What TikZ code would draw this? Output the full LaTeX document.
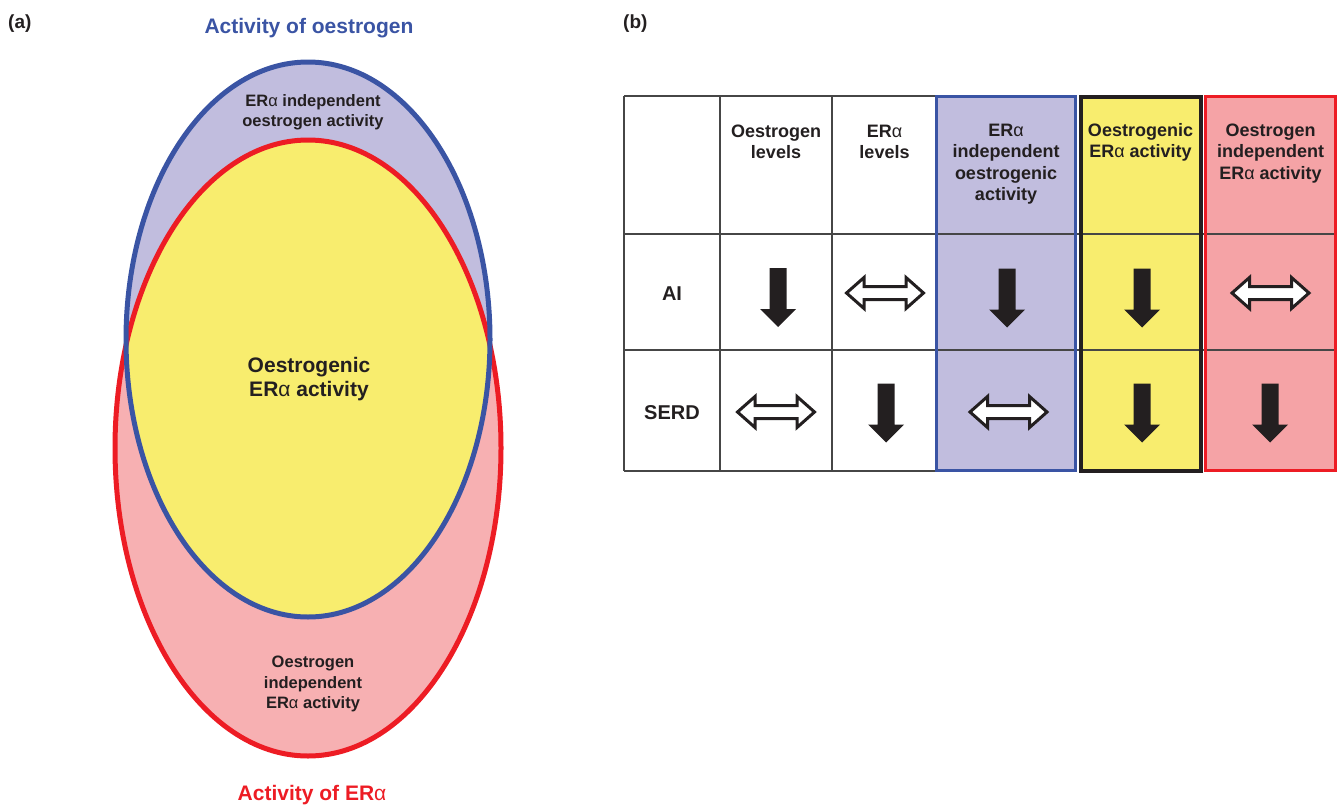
\documentclass[tikz,border=0pt]{standalone}
\usepackage{fontspec}
\setmainfont{Liberation Sans}
\definecolor{oeblue}{RGB}{58,84,164}
\definecolor{erred}{RGB}{237,28,36}
\definecolor{lavender}{RGB}{193,189,222}
\definecolor{sunyellow}{RGB}{248,237,110}
\definecolor{rosefill}{RGB}{247,176,178}
\definecolor{rosecell}{RGB}{245,163,166}
\definecolor{ink}{RGB}{35,31,32}
\definecolor{gridgray}{RGB}{70,70,70}
\newcommand{\ERa}{ER{\mdseries α}}
% multi-line labels are placed by the baseline of their last line
\tikzset{
  lbl/.style={inner sep=0pt, text=ink, align=center, anchor=base},
  biglbl/.style={lbl, font=\bfseries\fontsize{21}{24}\selectfont},
  smalllbl/.style={lbl, font=\bfseries\fontsize{16.5}{20.5}\selectfont},
  headlbl/.style={lbl, font=\bfseries\fontsize{18}{21.5}\selectfont},
  rowlbl/.style={lbl, font=\bfseries\fontsize{20}{24}\selectfont},
  panellbl/.style={inner sep=0pt, text=ink, anchor=base west, font=\bfseries\fontsize{19}{22}\selectfont},
  gridline/.style={draw=gridgray, line width=1.3pt},
  downarrow/.pic={
    \fill[ink] (-8.5,-29.5) -- (8.5,-29.5) -- (8.5,11.5) -- (18,11.5) -- (0,29.5)
      -- (-18,11.5) -- (-8.5,11.5) -- cycle;
  },
  bothways/.pic={
    \draw[ink, fill=white, line width=3pt, line join=miter]
      (-38.5,0) -- (-21,-15.5) -- (-21,-6.5) -- (21,-6.5) -- (21,-15.5) -- (38.5,0)
      -- (21,15.5) -- (21,6.5) -- (-21,6.5) -- (-21,15.5) -- cycle;
  }
}
\begin{document}
\begin{tikzpicture}[x=1pt, y=-1pt]
\useasboundingbox (0,0) rectangle (1344,806);

% ---------- (a) overlapping activities ----------
\coordinate (oecentre) at (308,339.5);
\coordinate (ercentre) at (308,448);
\fill[rosefill] (ercentre) ellipse [x radius=193pt, y radius=308pt];
\fill[lavender] (oecentre) ellipse [x radius=182pt, y radius=277.5pt];
\begin{scope}
  \clip (oecentre) ellipse [x radius=182pt, y radius=277.5pt];
  \fill[sunyellow] (ercentre) ellipse [x radius=193pt, y radius=308pt];
\end{scope}
\draw[erred, line width=5pt] (ercentre) ellipse [x radius=193pt, y radius=308pt];
\draw[oeblue, line width=5pt] (oecentre) ellipse [x radius=182pt, y radius=277.5pt];

\node[panellbl] (pa) at (8,28) {(a)};
\node[biglbl, text=oeblue] (oetitle) at (309,33) {Activity of oestrogen};
\node[smalllbl] (oeonly) at (313,126.5) {\ERa{} independent\\oestrogen activity};
\node[biglbl] (both) at (309,396) {Oestrogenic\\\ERa{} activity};
\node[smalllbl] (eronly) at (313,708.5) {Oestrogen\\independent\\\ERa{} activity};
\node[biglbl, text=erred] (ertitle) at (312,800) {Activity of \ERa};

% ---------- (b) effect of treatments ----------
\node[panellbl] (pb) at (623,28) {(b)};

% coloured columns
\fill[lavender] (936.5,96.5) rectangle (1075.5,470.5);
\fill[sunyellow] (1080.5,96.5) rectangle (1200.5,470.5);
\fill[rosecell] (1205.5,96.5) rectangle (1335.5,470.5);

% grid
\draw[gridline] (624,96) -- (937,96);
\draw[gridline] (624,471) -- (937,471);
\draw[gridline] (624,234) -- (1336,234);
\draw[gridline] (624,350) -- (1336,350);
\draw[gridline] (624,96) -- (624,471);
\draw[gridline] (720,96) -- (720,471);
\draw[gridline] (832,96) -- (832,471);

% column frames
\draw[oeblue, line width=3pt] (936.5,96.5) rectangle (1075.5,470.5);
\draw[ink, line width=4pt] (1080.5,96.5) rectangle (1200.5,470.5);
\draw[erred, line width=3.5pt] (1205.5,96.5) rectangle (1335.5,470.5);

% headers
\node[headlbl] (hlev) at (776,158.5) {Oestrogen\\levels};
\node[headlbl] (hera) at (884.5,158.5) {\ERa\\levels};
\node[headlbl] (hind) at (1006,200.5) {\ERa\\independent\\oestrogenic\\activity};
\node[headlbl] (hoes) at (1140.5,157.5) {Oestrogenic\\\ERa{} activity};
\node[headlbl] (hoer) at (1270.5,179) {Oestrogen\\independent\\\ERa{} activity};

% row labels
\node[rowlbl] (ai) at (672,300) {AI};
\node[rowlbl] (serd) at (672,419) {SERD};

% AI row
\pic at (778,297.5) {downarrow};
\pic at (885,293) {bothways};
\pic at (1007,298) {downarrow};
\pic at (1142,298) {downarrow};
\pic at (1270.5,293) {bothways};

% SERD row
\pic at (776,412) {bothways};
\pic at (886,413) {downarrow};
\pic at (1008.5,412) {bothways};
\pic at (1142,413) {downarrow};
\pic at (1270,413) {downarrow};
\end{tikzpicture}
\end{document}
